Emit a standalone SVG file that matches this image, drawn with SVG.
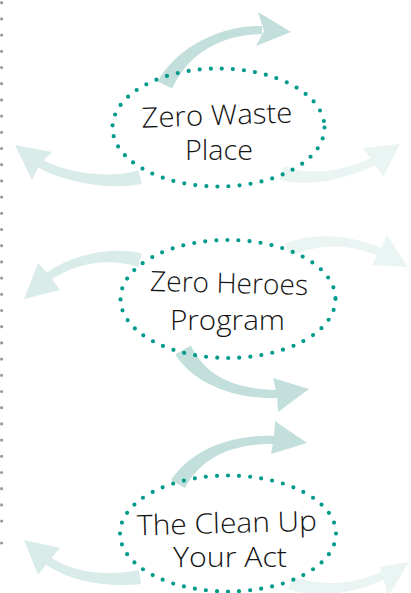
<svg xmlns="http://www.w3.org/2000/svg" width="411" height="593" viewBox="0 0 411 593">
<style>
.bg{fill:#ffffff}
.rail{stroke:#9b9b9b;stroke-width:3.2;stroke-linecap:round;stroke-dasharray:0 16.2;fill:none}
.ring{fill:none;stroke:#009a8d;stroke-width:4.2;stroke-linecap:round;stroke-dasharray:0 11.1}
.a1{fill:#c2dfdc}
.a2{fill:#d9ecea}
.a3{fill:#eaf4f3}
.lbl{font-family:"Open Sans","Noto Sans","DejaVu Sans",sans-serif;font-weight:300;font-size:28px;fill:#151515;text-anchor:middle}
</style>
<rect class="bg" x="0" y="0" width="411" height="593"/>
<g id="rail">
<line class="rail" x1="1.6" y1="2.7" x2="1.6" y2="522"/>
<circle cx="1.6" cy="543" r="1.6" fill="#9b9b9b"/>
</g>
<g id="connectors">
<!-- node 1 -->
<path class="a1" d="M157.8,81.4 C173.7,51.9 215,25 262,26 L262,34 C215,35 186.3,58.1 172.2,88.6 Z"/>
<polygon class="a1" points="258,12 291,32 256,46 264,31"/>
<path class="a2" d="M138.2,170.2 C108.5,179.2 64.7,173.8 36.2,156.6 L31.8,163.4 C59.3,182.2 111.5,190.8 141.8,183.8 Z"/>
<polygon class="a2" points="15,145 52,152 40,164 32,180"/>
<path class="a3" d="M284.1,166.3 C311.8,176.3 342.7,171.6 376.2,155.4 L379.8,162.6 C347.3,180.4 308.2,187.7 279.9,179.7 Z"/>
<polygon class="a3" points="400,144 363,148 373,161 383,177"/>
<!-- node 2 -->
<path class="a2" d="M141.8,253.2 C111.5,246.2 68.9,254.1 41.5,276.9 L46.5,283.1 C75.1,261.9 108.5,257.8 138.2,266.8 Z"/>
<polygon class="a2" points="24,299 38,263 50,276 60,290"/>
<path class="a3" d="M285.2,243.6 C312.6,232.5 352.1,233.5 385.7,250.4 L382.3,257.6 C347.9,242.5 317.4,243.5 290.8,256.4 Z"/>
<polygon class="a3" points="408,267 387,235 380,250 372,265"/>
<path class="a1" d="M190.8,345.6 C206.1,376.5 234.9,390 279.9,390 L280.1,398 C235.1,400 193.9,383.5 175.2,354.4 Z"/>
<polygon class="a1" points="309,389 273,378 277,395 278,412"/>
<!-- node 3 -->
<path class="a1" d="M171.1,480 C189,451.5 230.2,433 278.2,436 L277.8,444 C229.8,443 201,458.5 184.9,488 Z"/>
<polygon class="a1" points="307,443 275,421 274,438 271,454"/>
<path class="a2" d="M138.9,570.1 C109,576.1 73,574 46.4,554.8 L41.6,561.2 C67,582 111,587.9 141.1,583.9 Z"/>
<polygon class="a2" points="24,540 60,548 49,561 38,575"/>
<path class="a3" d="M292,576.3 C321.7,586.3 352.7,585.6 384.2,570.4 L387.8,577.6 C357.3,594.4 318.3,597.7 288,589.7 Z"/>
<polygon class="a3" points="409,562 380,567 384,580 388,597"/>
</g>
<g id="node-zero-waste-place">
<ellipse class="ring" cx="218.5" cy="127.5" rx="106" ry="59"/>
<text class="lbl" x="217" y="125" textLength="151" lengthAdjust="spacingAndGlyphs" transform="rotate(-2 217 118)">Zero Waste</text>
<text class="lbl" x="219" y="160" textLength="68" lengthAdjust="spacingAndGlyphs">Place</text>
</g>
<g id="node-zero-heroes-program">
<ellipse class="ring" cx="228" cy="299" rx="107.5" ry="59"/>
<text class="lbl" x="229" y="293" textLength="158" lengthAdjust="spacingAndGlyphs" transform="rotate(1.5 229 285)">Zero Heroes</text>
<text class="lbl" x="227.5" y="330" textLength="115" lengthAdjust="spacingAndGlyphs">Program</text>
</g>
<g id="node-clean-up-your-act">
<ellipse class="ring" cx="228" cy="533.5" rx="108" ry="58"/>
<text class="lbl" x="227" y="533" textLength="180" lengthAdjust="spacingAndGlyphs" transform="rotate(-1.5 227 525)">The Clean Up</text>
<text class="lbl" x="230" y="567" textLength="114" lengthAdjust="spacingAndGlyphs">Your Act</text>
</g>
</svg>
